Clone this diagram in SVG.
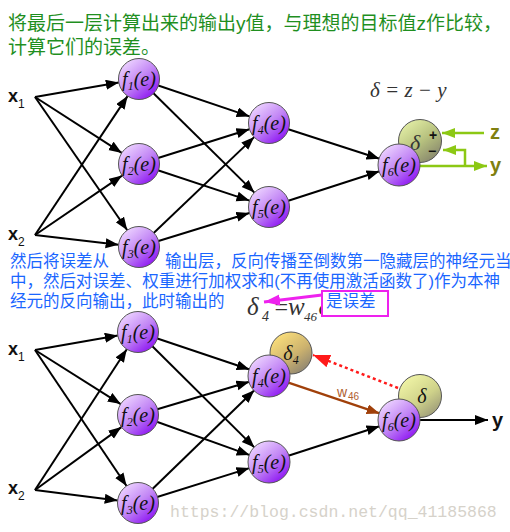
<svg xmlns="http://www.w3.org/2000/svg" width="510" height="532" viewBox="0 0 510 532">
<defs>
<linearGradient id="gp" x1="0.15" y1="0.1" x2="0.85" y2="0.95">
<stop offset="0" stop-color="#ecd2ff"/>
<stop offset="0.5" stop-color="#c184f5"/>
<stop offset="1" stop-color="#8a0ef2"/>
</linearGradient>
<linearGradient id="gd1" x1="0.2" y1="0.1" x2="0.85" y2="0.95">
<stop offset="0" stop-color="#dfeaa2"/>
<stop offset="0.5" stop-color="#b6c07e"/>
<stop offset="1" stop-color="#85846c"/>
</linearGradient>
<linearGradient id="gd2" x1="0.2" y1="0.1" x2="0.85" y2="0.95">
<stop offset="0" stop-color="#eef2a4"/>
<stop offset="0.55" stop-color="#cfd28a"/>
<stop offset="1" stop-color="#9a9878"/>
</linearGradient>
<linearGradient id="gd4" x1="0.2" y1="0.1" x2="0.85" y2="0.95">
<stop offset="0" stop-color="#f8dc7a"/>
<stop offset="0.55" stop-color="#ccb26e"/>
<stop offset="1" stop-color="#8a8272"/>
</linearGradient>
<clipPath id="cut"><rect x="300" y="290" width="21" height="35"/></clipPath>
<marker id="ab" markerUnits="userSpaceOnUse" markerWidth="14" markerHeight="11" refX="13" refY="5" orient="auto">
<path d="M0,0 L13,5 L0,10 z" fill="#000"/>
</marker>
<marker id="ag" markerUnits="userSpaceOnUse" markerWidth="14" markerHeight="11" refX="13" refY="5" orient="auto">
<path d="M0,0 L13,5 L0,10 z" fill="#8cc814"/>
</marker>
<marker id="abr" markerUnits="userSpaceOnUse" markerWidth="14" markerHeight="11" refX="13" refY="5" orient="auto">
<path d="M0,0 L13,5 L0,10 z" fill="#a0400a"/>
</marker>
<marker id="ar" markerUnits="userSpaceOnUse" markerWidth="18" markerHeight="14" refX="17" refY="6.5" orient="auto">
<path d="M0,0 L17,6.5 L0,13 z" fill="#ff1a1a"/>
</marker>
<marker id="am" markerUnits="userSpaceOnUse" markerWidth="17" markerHeight="12" refX="16" refY="5.5" orient="auto">
<path d="M0,0 L16,5.5 L0,11 z" fill="#ee22ee"/>
</marker>
</defs>
<style>
.g{font-family:"Liberation Sans","Noto Sans CJK SC",sans-serif;font-size:19px;fill:#1f8f1f}
.b{font-family:"Liberation Sans","Noto Sans CJK SC",sans-serif;font-size:16.5px;fill:#1a66ff}
.e{stroke:#000;stroke-width:2;fill:none;marker-end:url(#ab)}
.gr{stroke:#8cc814;stroke-width:2.5;fill:none;marker-end:url(#ag)}
.n{fill:url(#gp);stroke:#555;stroke-width:1}
.fl{font-family:"Liberation Serif",serif;font-style:italic;font-size:20px;fill:#111;text-anchor:middle}
.sub{font-size:12px}
.x{font-family:"Liberation Sans",sans-serif;font-weight:bold;font-size:18px;fill:#111}
.xs{font-family:"Liberation Sans",sans-serif;font-size:12px;fill:#111}
.m{font-family:"Liberation Serif",serif;font-style:italic;fill:#333}
.wm{font-family:"Liberation Mono",monospace;font-size:16.5px;fill:#d6d2ca}
</style>

<text class="g" x="8" y="30" textLength="494">将最后一层计算出来的输出y值，与理想的目标值z作比较，</text>
<text class="g" x="8" y="54">计算它们的误差。</text>

<text class="m" x="370" y="97" font-size="21">δ = z − y</text>

<g id="labels-top">
<text class="x" x="8" y="102">x</text><text class="xs" x="18" y="108">1</text>
<text class="x" x="8" y="240">x</text><text class="xs" x="18" y="246">2</text>
<text x="490" y="139" font-family="Liberation Sans,sans-serif" font-weight="bold" font-size="20" fill="#808010">z</text>
<text x="490" y="172" font-family="Liberation Sans,sans-serif" font-weight="bold" font-size="20" fill="#808010">y</text>
</g>

<g id="connectors-top">
<line class="e" x1="35" y1="97" x2="118.8" y2="82.5"/>
<line class="e" x1="35" y1="97" x2="121.8" y2="152.9"/>
<line class="e" x1="35" y1="97" x2="127.3" y2="230.2"/>
<line class="e" x1="35" y1="235" x2="127.6" y2="96.1"/>
<line class="e" x1="35" y1="235" x2="122.1" y2="175.6"/>
<line class="e" x1="35" y1="235" x2="118.6" y2="244.7"/>
<line class="e" x1="139" y1="79" x2="249.6" y2="116.4"/>
<line class="e" x1="139" y1="79" x2="254.4" y2="192.6"/>
<line class="e" x1="139" y1="164" x2="249.4" y2="129.2"/>
<line class="e" x1="139" y1="164" x2="249.5" y2="200.6"/>
<line class="e" x1="139" y1="247" x2="254.2" y2="137.1"/>
<line class="e" x1="139" y1="247" x2="249.4" y2="213"/>
<line class="e" x1="269" y1="123" x2="379.5" y2="158.7"/>
<line class="e" x1="269" y1="207" x2="379.5" y2="171.3"/>
<line class="gr" x1="484" y1="133" x2="442" y2="133"/>
<line class="gr" x1="415" y1="166" x2="487" y2="166"/>
<polyline class="gr" points="465,166 465,150 443,150"/>
</g>

<g id="top-f1"><circle class="n" cx="139" cy="79" r="20.5"/><text class="fl" x="139" y="86">f<tspan class="sub" dy="4">1</tspan><tspan dy="-4">(e)</tspan></text></g>
<g id="top-f2"><circle class="n" cx="139" cy="164" r="20.5"/><text class="fl" x="139" y="171">f<tspan class="sub" dy="4">2</tspan><tspan dy="-4">(e)</tspan></text></g>
<g id="top-f3"><circle class="n" cx="139" cy="247" r="20.5"/><text class="fl" x="139" y="254">f<tspan class="sub" dy="4">3</tspan><tspan dy="-4">(e)</tspan></text></g>
<g id="top-f4"><circle class="n" cx="269" cy="123" r="20.5"/><text class="fl" x="269" y="130">f<tspan class="sub" dy="4">4</tspan><tspan dy="-4">(e)</tspan></text></g>
<g id="top-f5"><circle class="n" cx="269" cy="207" r="20.5"/><text class="fl" x="269" y="214">f<tspan class="sub" dy="4">5</tspan><tspan dy="-4">(e)</tspan></text></g>
<g id="top-delta"><circle cx="420" cy="141" r="21.5" fill="url(#gd1)" stroke="#555" stroke-width="1"/>
<text class="m" x="410" y="150" font-size="22" fill="#222">δ</text>
<text x="429" y="140" font-family="Liberation Sans,sans-serif" font-weight="bold" font-size="14" fill="#111">+</text>
<text x="428" y="156" font-family="Liberation Sans,sans-serif" font-weight="bold" font-size="14" fill="#111">−</text></g>
<g id="top-f6"><circle class="n" cx="399" cy="165" r="21"/><text class="fl" x="399" y="172">f<tspan class="sub" dy="4">6</tspan><tspan dy="-4">(e)</tspan></text></g>

<g id="text-blue">
<text class="b" x="10" y="267">然后将误差从</text>
<text class="b" x="165" y="267">输出层，反向传播至倒数第一隐藏层的神经元当</text>
<text class="b" x="10" y="287" textLength="490">中，然后对误差、权重进行加权求和(不再使用激活函数了)作为本神</text>
<text class="b" x="10" y="307">经元的反向输出，此时输出的</text>
</g>

<g id="formula">
<text class="m" x="247" y="315" font-size="25">δ</text>
<text class="m" x="262" y="321" font-size="14">4</text>
<text class="m" x="273" y="315" font-size="24">=</text>
<text class="m" x="288" y="315" font-size="25">w</text>
<text class="m" x="304" y="321" font-size="13">46</text>
<text class="m" x="318.5" y="315" font-size="25" clip-path="url(#cut)">δ</text>
</g>
<g id="note-box">
<rect x="322" y="291" width="66" height="25" fill="#fff" stroke="#ee22ee" stroke-width="2"/>
<text class="b" x="326" y="307">是误差</text>
<line x1="322" y1="295" x2="264" y2="302" stroke="#ee22ee" stroke-width="3" marker-end="url(#am)"/>
</g>

<g id="labels-bottom">
<text class="x" x="8" y="355">x</text><text class="xs" x="18" y="361">1</text>
<text class="x" x="8" y="494">x</text><text class="xs" x="18" y="500">2</text>
<text x="492" y="427" font-family="Liberation Sans,sans-serif" font-weight="bold" font-size="20" fill="#111">y</text>
</g>

<g id="connectors-bottom">
<line class="e" x1="35" y1="350" x2="117.8" y2="335.5"/>
<line class="e" x1="35" y1="350" x2="120.7" y2="404.1"/>
<line class="e" x1="35" y1="350" x2="126.6" y2="486"/>
<line class="e" x1="35" y1="490" x2="126.8" y2="349.2"/>
<line class="e" x1="35" y1="490" x2="121.4" y2="427.1"/>
<line class="e" x1="35" y1="490" x2="117.7" y2="500.4"/>
<line class="e" x1="138" y1="332" x2="249.6" y2="369.5"/>
<line class="e" x1="138" y1="332" x2="254.5" y2="447.6"/>
<line class="e" x1="138" y1="415" x2="249.4" y2="381.8"/>
<line class="e" x1="138" y1="415" x2="249.7" y2="455.1"/>
<line class="e" x1="138" y1="503" x2="254.3" y2="390.3"/>
<line class="e" x1="138" y1="503" x2="249.4" y2="468.1"/>
<line class="e" x1="269" y1="462" x2="379.5" y2="426.3"/>
<line x1="288.4" y1="382.6" x2="379.6" y2="413.4" stroke="#a0400a" stroke-width="2.2" marker-end="url(#abr)"/>
<line x1="398" y1="388" x2="313" y2="355" stroke="#ff1a1a" stroke-width="2.5" stroke-dasharray="3,3" marker-end="url(#ar)"/>
<line class="e" x1="415" y1="420" x2="488" y2="420"/>
<text x="337" y="397" font-family="Liberation Sans,sans-serif" font-size="14" fill="#b06030">w</text>
<text x="348" y="400" font-family="Liberation Sans,sans-serif" font-size="10" fill="#b06030">46</text>
</g>

<g id="bot-f1"><circle class="n" cx="138" cy="332" r="20.5"/><text class="fl" x="138" y="339">f<tspan class="sub" dy="4">1</tspan><tspan dy="-4">(e)</tspan></text></g>
<g id="bot-f2"><circle class="n" cx="138" cy="415" r="20.5"/><text class="fl" x="138" y="422">f<tspan class="sub" dy="4">2</tspan><tspan dy="-4">(e)</tspan></text></g>
<g id="bot-f3"><circle class="n" cx="138" cy="503" r="20.5"/><text class="fl" x="138" y="510">f<tspan class="sub" dy="4">3</tspan><tspan dy="-4">(e)</tspan></text></g>
<g id="bot-delta4"><circle cx="291" cy="353" r="21" fill="url(#gd4)" stroke="#555" stroke-width="1"/>
<text class="fl" x="291" y="360" font-size="22">δ<tspan class="sub" dy="4">4</tspan></text></g>
<g id="bot-f4"><circle class="n" cx="269" cy="376" r="21"/><text class="fl" x="269" y="383">f<tspan class="sub" dy="4">4</tspan><tspan dy="-4">(e)</tspan></text></g>
<g id="bot-f5"><circle class="n" cx="269" cy="462" r="21"/><text class="fl" x="269" y="469">f<tspan class="sub" dy="4">5</tspan><tspan dy="-4">(e)</tspan></text></g>
<g id="bot-delta"><circle cx="420" cy="396" r="21.5" fill="url(#gd2)" stroke="#555" stroke-width="1"/>
<text class="fl" x="422" y="403" font-size="22">δ</text></g>
<g id="bot-f6"><circle class="n" cx="399" cy="420" r="21"/><text class="fl" x="399" y="427">f<tspan class="sub" dy="4">6</tspan><tspan dy="-4">(e)</tspan></text></g>

<text class="wm" x="170" y="517">https://blog.csdn.net/qq_41185868</text>
</svg>
